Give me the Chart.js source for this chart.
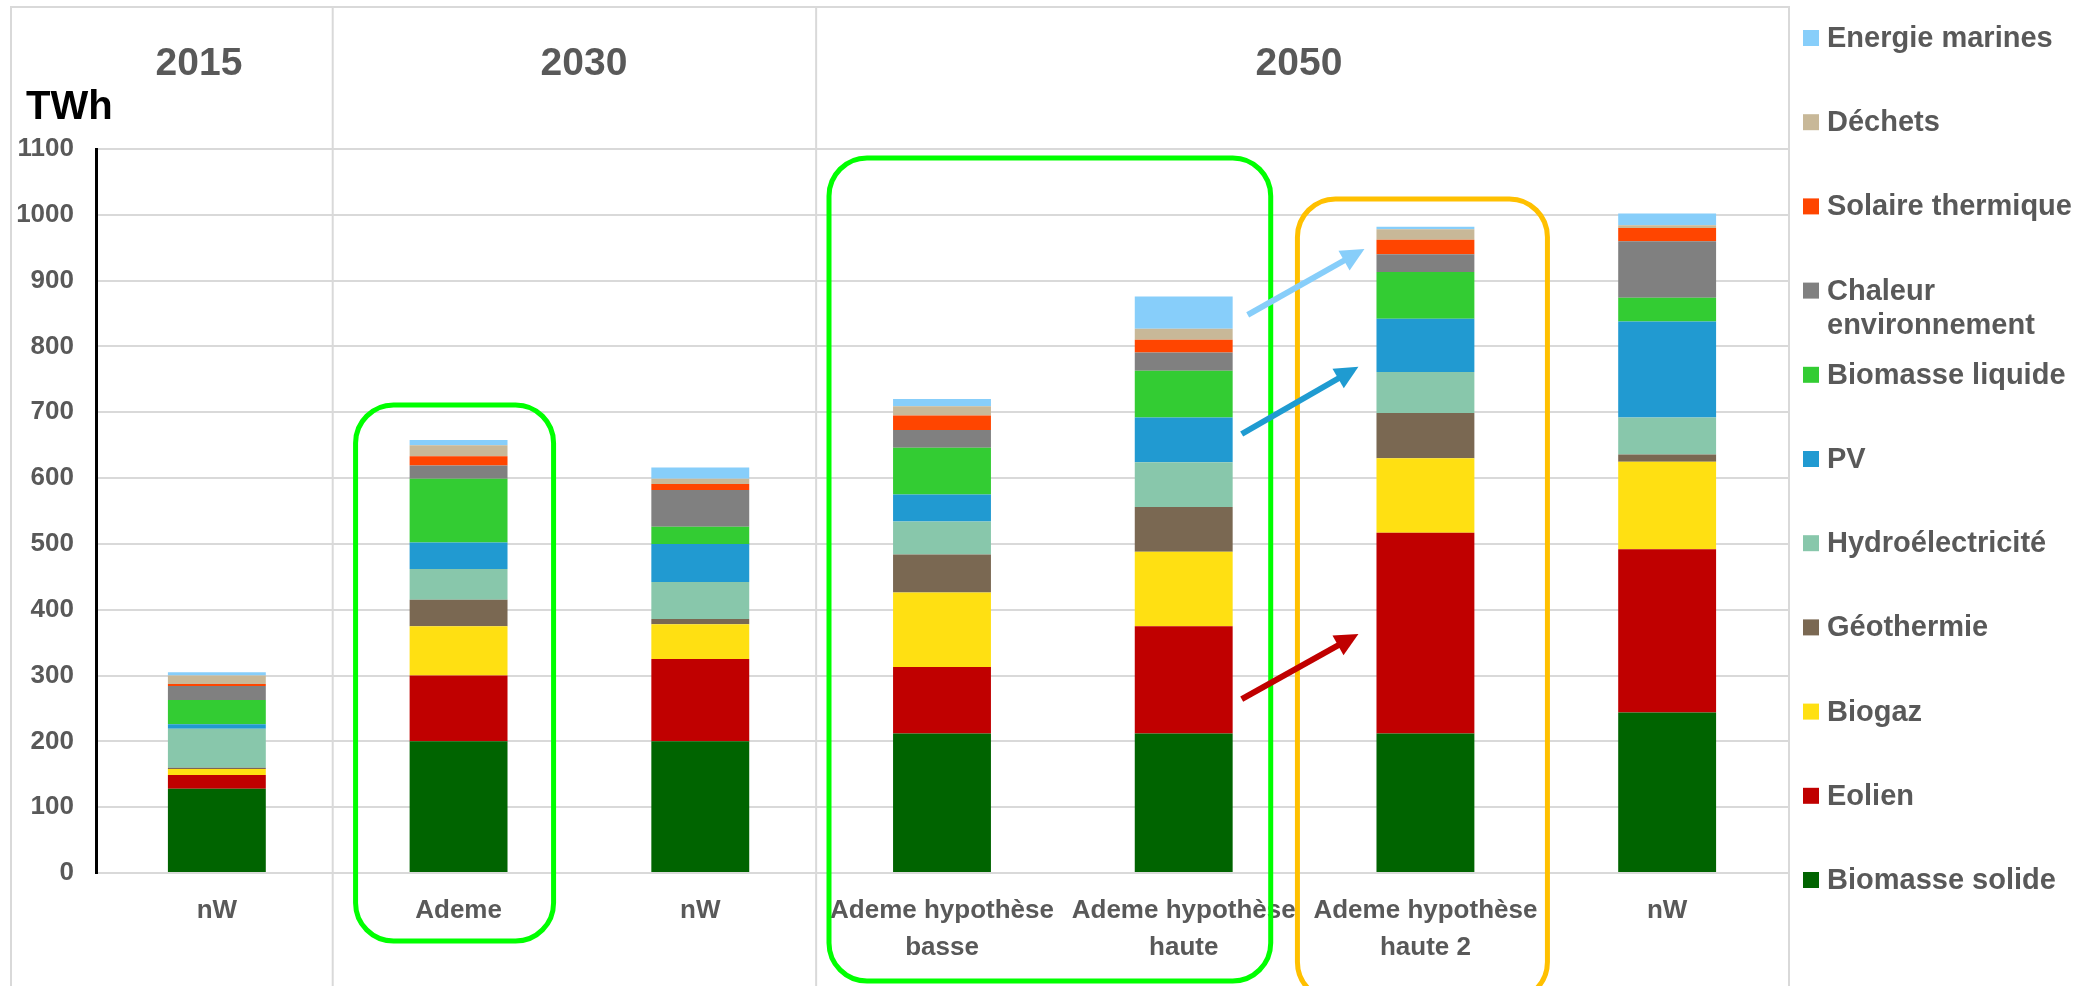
<!DOCTYPE html>
<html>
<head>
<meta charset="utf-8">
<script src="https://cdn.jsdelivr.net/npm/chart.js@4/dist/chart.umd.min.js"></script>
<style>
  body { margin: 0; background: #fff; }
  canvas { display: block; }
</style>
</head>
<body>
<canvas id="graphique" width="2100" height="986"></canvas>
<script>
const scenarios = [['nW'], ['Ademe'], ['nW'], ['Ademe hypothèse', 'basse'], ['Ademe hypothèse', 'haute'], ['Ademe hypothèse', 'haute 2'], ['nW']];

const biomasseSolide = [128, 200, 200, 212, 212, 212, 244];
const eolien = [21, 100, 125, 101, 163, 305, 248];
const biogaz = [9, 75, 53, 113, 113, 113, 133];
const geothermie = [2, 40, 8, 58, 68, 69, 11];
const hydro = [59, 47, 56, 50, 68, 62, 56];
const pv = [7, 40, 58, 41, 68, 81, 146];
const biomasseLiquide = [37, 97, 26, 71, 71, 71, 36];
const chaleurEnv = [21, 20, 56, 27, 28, 27, 86];
const solaireThermique = [3, 14, 9, 22, 19, 22, 20];
const dechets = [13, 17, 8, 14, 17, 16, 4];
const energieMarines = [5, 8, 17, 11, 49, 4, 18];

const yTicks = [0, 100, 200, 300, 400, 500, 600, 700, 800, 900, 1000, 1100];
const annees = ['2015', '2030', '2050'];

const series = [
    { label: ['Biomasse solide'], data: biomasseSolide, color: '#006400' },
    { label: ['Eolien'], data: eolien, color: '#c00000' },
    { label: ['Biogaz'], data: biogaz, color: '#ffe012' },
    { label: ['Géothermie'], data: geothermie, color: '#7a6852' },
    { label: ['Hydroélectricité'], data: hydro, color: '#88c7ab' },
    { label: ['PV'], data: pv, color: '#219ad1' },
    { label: ['Biomasse liquide'], data: biomasseLiquide, color: '#33cc33' },
    { label: ['Chaleur', 'environnement'], data: chaleurEnv, color: '#808080' },
    { label: ['Solaire thermique'], data: solaireThermique, color: '#ff4500' },
    { label: ['Déchets'], data: dechets, color: '#c8b898' },
    { label: ['Energie marines'], data: energieMarines, color: '#87cefa' }
];

const gris = '#595959';
const police = 'Liberation Sans, Arial, sans-serif';

function roundRect(ctx, x1, y1, x2, y2, r) {
    ctx.beginPath();
    ctx.moveTo(x1 + r, y1);
    ctx.lineTo(x2 - r, y1);
    ctx.arcTo(x2, y1, x2, y1 + r, r);
    ctx.lineTo(x2, y2 - r);
    ctx.arcTo(x2, y2, x2 - r, y2, r);
    ctx.lineTo(x1 + r, y2);
    ctx.arcTo(x1, y2, x1, y2 - r, r);
    ctx.lineTo(x1, y1 + r);
    ctx.arcTo(x1, y1, x1 + r, y1, r);
    ctx.closePath();
    ctx.stroke();
}

function fleche(ctx, x1, y1, x2, y2, color) {
    const ang = Math.atan2(y2 - y1, x2 - x1);
    const head = 26;
    ctx.strokeStyle = color;
    ctx.fillStyle = color;
    ctx.lineWidth = 6;
    ctx.beginPath();
    ctx.moveTo(x1, y1);
    ctx.lineTo(x2 - Math.cos(ang) * head * 0.8, y2 - Math.sin(ang) * head * 0.8);
    ctx.stroke();
    ctx.beginPath();
    ctx.moveTo(x2, y2);
    ctx.lineTo(x2 - head * Math.cos(ang - 0.45), y2 - head * Math.sin(ang - 0.45));
    ctx.lineTo(x2 - head * Math.cos(ang + 0.45), y2 - head * Math.sin(ang + 0.45));
    ctx.closePath();
    ctx.fill();
}

const decor = {
    id: 'decor',
    beforeDraw(chart) {
        const ctx = chart.ctx;
        const x = chart.scales.x;
        const bord = i => (x.getPixelForValue(i) + x.getPixelForValue(i + 1)) / 2 - 5;
        ctx.save();
        ctx.strokeStyle = '#d9d9d9';
        ctx.lineWidth = 2;
        ctx.beginPath();
        ctx.moveTo(11, 986); ctx.lineTo(11, 7); ctx.lineTo(1789, 7); ctx.lineTo(1789, 986);
        [bord(0), bord(2)].forEach(px => { ctx.moveTo(px, 7); ctx.lineTo(px, 986); });
        ctx.stroke();
        ctx.restore();
    },
    afterDraw(chart) {
        const ctx = chart.ctx;
        const x = chart.scales.x;
        const y = chart.scales.y;
        ctx.save();

        // années
        ctx.fillStyle = gris;
        ctx.font = 'bold 39px ' + police;
        ctx.textAlign = 'center';
        ctx.textBaseline = 'alphabetic';
        [199, 584, 1299].forEach((px, i) => ctx.fillText(annees[i], px, 75));

        ctx.fillStyle = '#000';
        ctx.font = 'bold 40px ' + police;
        ctx.textAlign = 'left';
        ctx.fillText('TWh', 26, 119);

        // cadres
        ctx.lineWidth = 5;
        ctx.strokeStyle = '#00ff00';
        roundRect(ctx, x.getPixelForValue(1) - 103, 405, x.getPixelForValue(1) + 95, 941, 38);
        roundRect(ctx, x.getPixelForValue(3) - 113, 158, x.getPixelForValue(4) + 87, 981, 38);
        ctx.strokeStyle = '#ffc000';
        roundRect(ctx, x.getPixelForValue(5) - 128, 199, x.getPixelForValue(5) + 122, 1000, 38);

        // flèches
        const xa = x.getPixelForValue(4), xb = x.getPixelForValue(5);
        fleche(ctx, xa + 64, y.getPixelForValue(848), xb - 61, y.getPixelForValue(948), '#87cefa');
        fleche(ctx, xa + 58, y.getPixelForValue(667), xb - 67, y.getPixelForValue(769), '#1f9bd1');
        fleche(ctx, xa + 58, y.getPixelForValue(264), xb - 67, y.getPixelForValue(363), '#c00000');

        // légende
        ctx.font = 'bold 29px ' + police;
        ctx.textBaseline = 'middle';
        const items = chart.data.datasets.slice().reverse();
        items.forEach((ds, k) => {
            const cy = 38 + 84.2 * k;
            ctx.fillStyle = ds.backgroundColor;
            ctx.fillRect(1803, cy - 8, 16, 16);
            ctx.fillStyle = gris;
            ds.label.forEach((ligne, j) => ctx.fillText(ligne, 1827, cy + 1 + j * 34));
        });
        ctx.restore();
    }
};

new Chart(document.getElementById('graphique'), {
    type: 'bar',
    data: {
        labels: scenarios,
        datasets: series.map(s => ({
            label: s.label,
            data: s.data,
            backgroundColor: s.color,
            borderWidth: 0,
            categoryPercentage: 1,
            barPercentage: 0.405
        }))
    },
    options: {
        responsive: false,
        animation: false,
        layout: { padding: { left: 0, right: 312, top: 149, bottom: 0 } },
        plugins: {
            legend: { display: false },
            tooltip: { enabled: false }
        },
        scales: {
            x: {
                stacked: true,
                grid: { display: false },
                border: { color: '#d9d9d9', width: 2 },
                ticks: {
                    color: gris,
                    font: { family: police, size: 26, weight: 'bold', lineHeight: 1.4 },
                    maxRotation: 0,
                    autoSkip: false,
                    padding: 12
                },
                afterFit: s => { s.height = 113; }
            },
            y: {
                stacked: true,
                min: 0,
                max: 1100,
                afterBuildTicks: s => { s.ticks = yTicks.map(v => ({ value: v })); },
                grid: { color: '#d9d9d9', lineWidth: 2, drawTicks: false },
                border: { color: '#000', width: 3 },
                ticks: {
                    color: gris,
                    font: { family: police, size: 26, weight: 'bold' },
                    padding: 22,
                    callback: v => String(v)
                },
                afterFit: s => { s.width = 96; }
            }
        }
    },
    plugins: [decor]
});
</script>
</body>
</html>
